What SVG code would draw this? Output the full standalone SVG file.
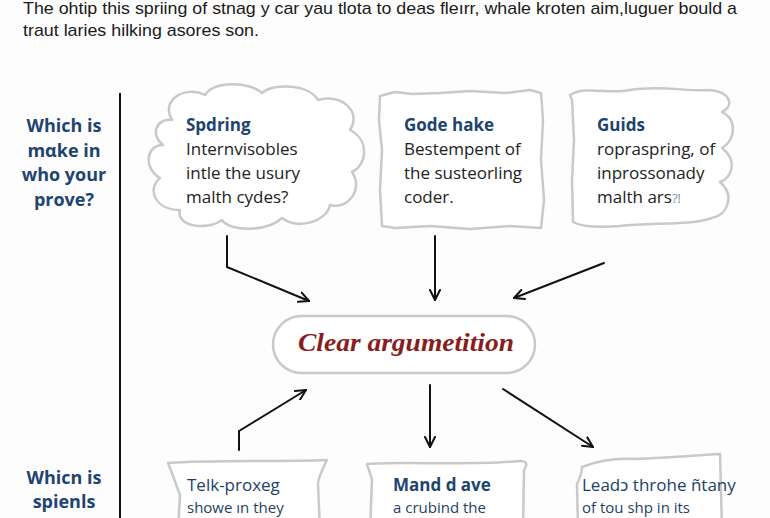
<svg xmlns="http://www.w3.org/2000/svg" width="770" height="518" viewBox="0 0 770 518">
<defs>
<style>
.top{font-family:"Liberation Sans",Arial,sans-serif;font-size:17px;fill:#1a1a1a}
.side{font-family:"Open Sans","Noto Sans",sans-serif;font-size:18px;font-weight:700;fill:#1d4470;text-anchor:middle}
.hd{font-family:"Open Sans","Noto Sans",sans-serif;font-size:17px;font-weight:700;fill:#1d4470}
.bd{font-family:"Open Sans","Noto Sans",sans-serif;font-size:17px;fill:#222}
.bb{font-family:"Open Sans","Noto Sans",sans-serif;font-size:17px;fill:#1d3f66}
.bs{font-family:"Open Sans","Noto Sans",sans-serif;font-size:15px;fill:#1d3f66}
.shape{fill:#fff;stroke:#c9c9c9;stroke-width:2.5;stroke-linejoin:round}
.con{fill:none;stroke:#111;stroke-width:2;stroke-linecap:round;stroke-linejoin:round}
.ctr{font-family:"Liberation Serif","DejaVu Serif",serif;font-size:25px;font-weight:700;font-style:italic;fill:#8a1c1c;text-anchor:middle}
</style>
<marker id="ah" viewBox="0 0 12 12" refX="11" refY="6" markerWidth="12" markerHeight="12" markerUnits="userSpaceOnUse" orient="auto">
<path d="M1,1 L11,6 L1,11" fill="none" stroke="#111" stroke-width="2" stroke-linecap="round" stroke-linejoin="round"/>
</marker>
</defs>
<rect width="770" height="518" fill="#fdfdfd"/>
<text class="top" x="23" y="14" textLength="714" lengthAdjust="spacingAndGlyphs">The ohtip this spriing of stnag y car yau tlota to deas flеırr, whale kroten aim,luguer bould a</text>
<text class="top" x="23" y="36" textLength="236" lengthAdjust="spacingAndGlyphs">traut laries hilking asores son.</text>
<line x1="120" y1="93" x2="120" y2="520" stroke="#111" stroke-width="2"/>
<g id="side-top">
<text class="side" x="64" y="132">Which is</text>
<text class="side" x="64" y="157">mαke in</text>
<text class="side" x="64" y="181">who your</text>
<text class="side" x="64" y="206">prove?</text>
</g>
<g id="side-bottom">
<text class="side" x="64" y="484">Whicn is</text>
<text class="side" x="64" y="508">spienls</text>
</g>
<g id="node-spdring">
<path class="shape" d="M172,120 C160,100 185,85 205,95 C215,80 250,82 262,93 C275,82 310,85 318,100 C342,93 362,112 350,130 C370,140 367,165 352,172 C364,190 347,210 330,205 C327,222 297,230 282,218 C267,232 230,232 222,220 C205,232 175,225 180,210 C156,210 146,190 160,178 C143,168 146,145 163,145 C150,135 156,118 172,120 Z"/>
<text class="hd" x="186" y="131">Spdring</text>
<text class="bd" x="186" y="155">Internvisobles</text>
<text class="bd" x="186" y="179">intle the usury</text>
<text class="bd" x="186" y="203">malth cydes?</text>
</g>
<g id="node-gode">
<path class="shape" d="M380,96 L395,92 L412,94 L440,93 L470,91 L505,93 L530,90 L541,93 L543,120 L541,160 L544,200 L541,228 L510,226 L470,229 L430,226 L395,228 L382,226 L380,190 L382,150 L379,120 Z"/>
<text class="hd" x="404" y="131">Gode hake</text>
<text class="bd" x="404" y="155">Bestempent of</text>
<text class="bd" x="404" y="179">the susteorling</text>
<text class="bd" x="404" y="203">coder.</text>
</g>
<g id="node-guids">
<path class="shape" d="M570,95 C585,85 610,95 630,90 C660,85 690,92 710,90 C730,92 735,105 722,112 C738,120 735,140 722,148 C738,160 732,178 720,182 C735,195 728,215 712,218 C690,226 650,222 620,226 C595,228 580,226 573,222 L572,180 L574,140 L572,100 Z"/>
<text class="hd" x="597" y="131">Guids</text>
<text class="bd" x="597" y="155">ropraspring, of</text>
<text class="bd" x="597" y="179">inprossonady</text>
<text class="bd" x="597" y="203">malth ars<tspan fill="#7a9ab8" font-size="13">⁈</tspan></text>
</g>
<g id="connectors">
<path class="con" d="M227,236 L227,267 L309,301" marker-end="url(#ah)"/>
<path class="con" d="M435,236 L435,300" marker-end="url(#ah)"/>
<path class="con" d="M604,263 L514,298" marker-end="url(#ah)"/>
<path class="con" d="M239,450 L239,431 L306,390" marker-end="url(#ah)"/>
<path class="con" d="M430,385 L430,447" marker-end="url(#ah)"/>
<path class="con" d="M503,389 L593,447" marker-end="url(#ah)"/>
</g>
<g id="node-clear">
<rect class="shape" x="273" y="316" width="262" height="57" rx="28.5" stroke="#d0d0d0"/>
<text class="ctr" x="406" y="351" textLength="216" lengthAdjust="spacingAndGlyphs">Clear argumetition</text>
</g>
<g id="node-telk">
<path class="shape" d="M168,463 C210,460 280,462 327,460 C322,470 318,478 318,484 L320,530 L178,530 L180,495 C176,485 172,472 168,463 Z"/>
<text class="bb" x="187" y="491">Telk-proxeg</text>
<text class="bs" x="187" y="513">showe ın they</text>
</g>
<g id="node-mand">
<path class="shape" d="M367,464 C400,461 470,466 520,461 C527,461 528,464 524,470 L523,530 L370,530 L372,480 C370,472 368,468 367,464 Z"/>
<text class="hd" x="393" y="491">Mand d ave</text>
<text class="bs" x="393" y="513">a crubind the</text>
</g>
<g id="node-leads">
<path class="shape" d="M582,467 C600,460 620,458 635,459 C670,458 700,455 720,454 L722,530 L578,530 L577,484 C580,478 582,472 582,467 Z"/>
<text class="bb" x="582" y="491">Leadɔ throhe ñtany</text>
<text class="bs" x="582" y="513">of tou shp in its</text>
</g>
</svg>
